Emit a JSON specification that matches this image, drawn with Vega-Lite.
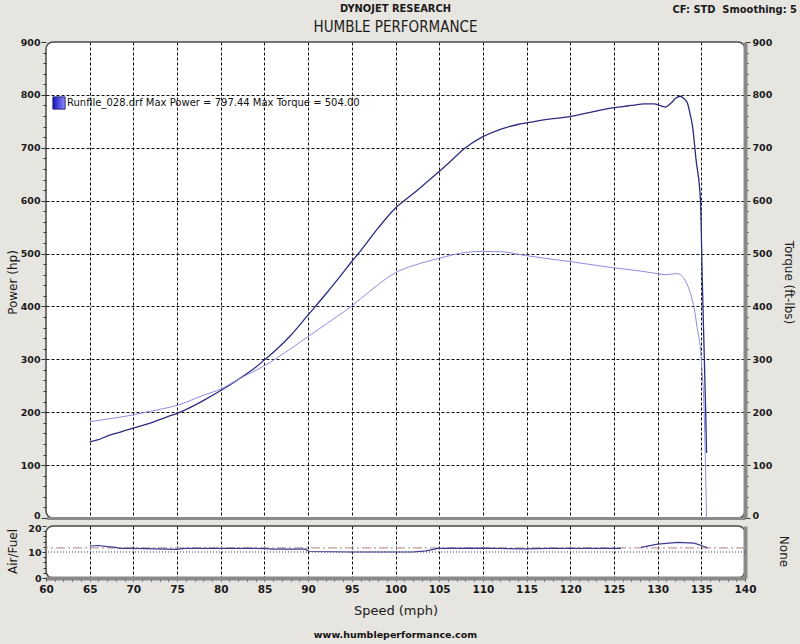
{
  "$schema": "https://vega.github.io/schema/vega-lite/v6.json",
  "padding": {"left": 5, "top": 3, "right": 4, "bottom": 6},
  "background": "#e7e5e0",
  "bounds": "flush",
  "spacing": 8,
  "title": {
    "text": "DYNOJET RESEARCH",
    "subtitle": "HUMBLE PERFORMANCE",
    "anchor": "middle",
    "frame": "group",
    "offset": 0,
    "dy": 32,
    "font": "DejaVu Sans Condensed",
    "fontSize": 11,
    "fontWeight": "bold",
    "color": "#1a1a1a",
    "subtitleFont": "DejaVu Sans Condensed",
    "subtitleFontSize": 15,
    "subtitleColor": "#1a1a1a",
    "subtitlePadding": 6
  },
  "datasets": {
    "power": [
      {"speed": 65, "hp": 144}, {"speed": 66, "hp": 148}, {"speed": 67, "hp": 155}, {"speed": 68, "hp": 160},
      {"speed": 69, "hp": 165}, {"speed": 70, "hp": 170}, {"speed": 72, "hp": 180}, {"speed": 74, "hp": 192},
      {"speed": 75, "hp": 198}, {"speed": 76, "hp": 205}, {"speed": 78, "hp": 222}, {"speed": 80, "hp": 241},
      {"speed": 82, "hp": 262}, {"speed": 84, "hp": 285}, {"speed": 85, "hp": 299}, {"speed": 86, "hp": 313},
      {"speed": 88, "hp": 345}, {"speed": 90, "hp": 384}, {"speed": 92, "hp": 423}, {"speed": 94, "hp": 464},
      {"speed": 95, "hp": 485}, {"speed": 96, "hp": 505}, {"speed": 98, "hp": 548}, {"speed": 100, "hp": 586},
      {"speed": 102, "hp": 613}, {"speed": 104, "hp": 641}, {"speed": 105, "hp": 655}, {"speed": 106, "hp": 670},
      {"speed": 108, "hp": 700}, {"speed": 110, "hp": 721}, {"speed": 112, "hp": 735}, {"speed": 114, "hp": 744},
      {"speed": 115, "hp": 747}, {"speed": 116, "hp": 750}, {"speed": 118, "hp": 755}, {"speed": 120, "hp": 759},
      {"speed": 122, "hp": 766}, {"speed": 124, "hp": 773}, {"speed": 125, "hp": 776}, {"speed": 126, "hp": 778},
      {"speed": 127, "hp": 780}, {"speed": 128.5, "hp": 783}, {"speed": 129.6, "hp": 783}, {"speed": 130.4, "hp": 779},
      {"speed": 130.9, "hp": 777}, {"speed": 131.5, "hp": 784}, {"speed": 132.1, "hp": 794}, {"speed": 132.6, "hp": 797.44},
      {"speed": 133, "hp": 793}, {"speed": 133.4, "hp": 785}, {"speed": 133.7, "hp": 765}, {"speed": 134, "hp": 740},
      {"speed": 134.4, "hp": 677}, {"speed": 134.9, "hp": 601}, {"speed": 135, "hp": 540}, {"speed": 135.1, "hp": 456},
      {"speed": 135.3, "hp": 330}, {"speed": 135.5, "hp": 200}, {"speed": 135.6, "hp": 123}
    ],
    "torque": [
      {"speed": 65, "tq": 182}, {"speed": 67, "tq": 187}, {"speed": 70, "tq": 195}, {"speed": 72, "tq": 202},
      {"speed": 75, "tq": 213}, {"speed": 78, "tq": 232}, {"speed": 80, "tq": 244}, {"speed": 82, "tq": 262},
      {"speed": 85, "tq": 288}, {"speed": 88, "tq": 320}, {"speed": 90, "tq": 343}, {"speed": 92, "tq": 366},
      {"speed": 95, "tq": 401}, {"speed": 97, "tq": 428}, {"speed": 98, "tq": 441}, {"speed": 100, "tq": 464},
      {"speed": 102, "tq": 477}, {"speed": 105, "tq": 491}, {"speed": 108, "tq": 502}, {"speed": 110, "tq": 504},
      {"speed": 112, "tq": 503.5}, {"speed": 115, "tq": 496}, {"speed": 118, "tq": 489}, {"speed": 120, "tq": 485},
      {"speed": 122, "tq": 480}, {"speed": 125, "tq": 473}, {"speed": 128, "tq": 467}, {"speed": 130, "tq": 462},
      {"speed": 131, "tq": 460}, {"speed": 132, "tq": 462}, {"speed": 132.5, "tq": 461}, {"speed": 133, "tq": 453},
      {"speed": 133.5, "tq": 437}, {"speed": 134, "tq": 410}, {"speed": 134.2, "tq": 396}, {"speed": 134.5, "tq": 362},
      {"speed": 134.9, "tq": 318}, {"speed": 135.1, "tq": 275}, {"speed": 135.3, "tq": 215}, {"speed": 135.45, "tq": 120},
      {"speed": 135.6, "tq": 0}
    ],
    "afr": [
      {"speed": 65, "afr": 12.3, "seg": 1}, {"speed": 66, "afr": 12.5, "seg": 1}, {"speed": 67, "afr": 12.1, "seg": 1},
      {"speed": 68, "afr": 11.8, "seg": 1}, {"speed": 68.4, "afr": 11.4, "seg": 1}, {"speed": 70, "afr": 11.4, "seg": 1},
      {"speed": 72.6, "afr": 11.2, "seg": 1}, {"speed": 74.9, "afr": 11.0, "seg": 1}, {"speed": 76, "afr": 11.4, "seg": 1},
      {"speed": 79.8, "afr": 11.4, "seg": 1}, {"speed": 83.6, "afr": 11.4, "seg": 1}, {"speed": 85, "afr": 11.3, "seg": 1},
      {"speed": 85.9, "afr": 11.1, "seg": 1}, {"speed": 89.7, "afr": 11.1, "seg": 1}, {"speed": 90.1, "afr": 10.2, "seg": 1},
      {"speed": 95, "afr": 10.0, "seg": 1}, {"speed": 100, "afr": 10.0, "seg": 1}, {"speed": 102, "afr": 10.0, "seg": 1},
      {"speed": 103.5, "afr": 10.4, "seg": 1}, {"speed": 104.9, "afr": 11.4, "seg": 1}, {"speed": 110, "afr": 11.5, "seg": 1},
      {"speed": 114.4, "afr": 11.2, "seg": 1}, {"speed": 117.5, "afr": 11.4, "seg": 1}, {"speed": 125.8, "afr": 11.4, "seg": 1},
      {"speed": 128.1, "afr": 11.8, "seg": 2}, {"speed": 130, "afr": 13.0, "seg": 2}, {"speed": 132.3, "afr": 13.7, "seg": 2},
      {"speed": 134.2, "afr": 13.4, "seg": 2}, {"speed": 135.4, "afr": 12.0, "seg": 2}, {"speed": 135.7, "afr": 11.6, "seg": 2}
    ],
    "base": [{"afr": 10}],
    "target": [{"afr": 11.6}]
  },
  "vconcat": [
    {
      "width": 699,
      "height": 476,
      "title": {
        "text": "CF: STD\u00a0 Smoothing: 5",
        "anchor": "end",
        "frame": "group",
        "dx": 52,
        "offset": 22,
        "font": "DejaVu Sans Condensed",
        "fontSize": 11,
        "fontWeight": "bold",
        "color": "#1a1a1a"
      },
      "layer": [
        {
          "data": {"name": "power"},
          "mark": {"type": "line", "color": "#2c2c80", "strokeWidth": 1.3, "interpolate": "monotone"},
          "encoding": {
            "x": {
              "field": "speed", "type": "quantitative",
              "scale": {"domain": [60, 140], "nice": false, "zero": false},
              "axis": {
                "values": [65, 70, 75, 80, 85, 90, 95, 100, 105, 110, 115, 120, 125, 130, 135],
                "labels": false, "ticks": false, "domain": true, "domainWidth": 3,
                "grid": true, "title": null
              }
            },
            "y": {
              "field": "hp", "type": "quantitative",
              "scale": {"domain": [0, 900], "nice": false},
              "axis": {
                "orient": "left",
                "values": [0,20,40,60,80,100,120,140,160,180,200,220,240,260,280,300,320,340,360,380,400,420,440,460,480,500,520,540,560,580,600,620,640,660,680,700,720,740,760,780,800,820,840,860,880,900],
                "labelExpr": "datum.value % 100 === 0 ? datum.label : ''",
                "labelOverlap": false,
                "labelFlush": false,
                "labelBaseline": {"condition": {"test": "datum.value === 0", "value": "alphabetic"}, "value": "middle"},
                "tickSize": {"condition": {"test": "datum.value % 100 === 0", "value": 5}, "value": 3},
                "gridOpacity": {"condition": {"test": "datum.value % 100 === 0 && datum.value > 0 && datum.value < 900", "value": 1}, "value": 0},
                "domain": false,
                "labelPadding": 1,
                "title": "Power (hp)",
                "titleX": -34, "titleY": 240, "titleBaseline": "middle", "titleAngle": -90
              }
            },
            "color": {
              "datum": "Runfile_028.drf Max Power = 797.44 Max Torque = 504.00",
              "scale": {"range": ["#2c2c80"]},
              "legend": {
                "orient": "none", "legendX": 6, "legendY": 54, "title": null,
                "symbolType": "square", "symbolSize": 150,
                "symbolFillColor": "#2525d8", "symbolStrokeColor": "#000000", "symbolStrokeWidth": 1, "symbolOpacity": 1,
                "labelFont": "DejaVu Sans", "labelFontSize": 10, "labelFontWeight": "normal", "labelColor": "#111111",
                "labelOffset": 1, "labelLimit": 500, "padding": 0,
                "encode": {
                  "symbols": {
                    "update": {
                      "fill": {"value": {"gradient": "linear", "x1": 0, "y1": 0, "x2": 1, "y2": 0, "stops": [{"offset": 0, "color": "#1414b8"}, {"offset": 1, "color": "#8a8aff"}]}},
                      "stroke": {"value": "#000000"},
                      "strokeWidth": {"value": 1},
                      "opacity": {"value": 1}
                    }
                  }
                }
              }
            }
          }
        },
        {
          "data": {"name": "torque"},
          "mark": {"type": "line", "color": "#8d8de0", "strokeWidth": 1, "interpolate": "monotone"},
          "encoding": {
            "x": {"field": "speed", "type": "quantitative"},
            "y": {
              "field": "tq", "type": "quantitative",
              "scale": {"domain": [0, 900], "nice": false},
              "axis": {
                "orient": "right",
                "values": [0,20,40,60,80,100,120,140,160,180,200,220,240,260,280,300,320,340,360,380,400,420,440,460,480,500,520,540,560,580,600,620,640,660,680,700,720,740,760,780,800,820,840,860,880,900],
                "labelExpr": "datum.value % 100 === 0 ? datum.label : ''",
                "labelOverlap": false,
                "labelFlush": false,
                "labelBaseline": {"condition": {"test": "datum.value === 0", "value": "alphabetic"}, "value": "middle"},
                "tickSize": {"condition": {"test": "datum.value % 100 === 0", "value": 5}, "value": 3},
                "grid": false,
                "domain": true, "domainWidth": 4,
                "labelPadding": 2,
                "title": "Torque (ft-lbs)",
                "titleX": 43, "titleY": 240, "titleBaseline": "middle", "titleAngle": 90
              }
            }
          }
        }
      ],
      "resolve": {"scale": {"y": "independent"}}
    },
    {
      "width": 699,
      "height": 52,
      "title": {
        "text": "www.humbleperformance.com",
        "orient": "bottom",
        "anchor": "middle",
        "frame": "group",
        "offset": 12,
        "font": "DejaVu Sans",
        "fontSize": 9.5,
        "fontWeight": "bold",
        "color": "#111111"
      },
      "layer": [
        {
          "data": {"name": "base"},
          "mark": {"type": "rule", "color": "#2a2a6a", "strokeDash": [1, 2], "strokeWidth": 1},
          "encoding": {
            "y": {
              "field": "afr", "type": "quantitative",
              "scale": {"domain": [0, 20], "nice": false},
              "axis": {
                "orient": "right", "title": "None", "labels": false, "ticks": false,
                "domain": true, "domainWidth": 4, "grid": false,
                "titleX": 38, "titleY": 25, "titleBaseline": "middle", "titleAngle": 90
              }
            }
          }
        },
        {
          "data": {"name": "target"},
          "mark": {"type": "rule", "color": "#c29a9a", "strokeDash": [9, 3, 2, 3], "strokeWidth": 1.3},
          "encoding": {
            "y": {"field": "afr", "type": "quantitative", "scale": {"domain": [0, 20], "nice": false}, "axis": null}
          }
        },
        {
          "data": {"name": "afr"},
          "mark": {"type": "line", "color": "#3a3a90", "strokeWidth": 1.2},
          "encoding": {
            "x": {
              "field": "speed", "type": "quantitative",
              "scale": {"domain": [60, 140], "nice": false, "zero": false},
              "axis": {
                "values": [60,61,62,63,64,65,66,67,68,69,70,71,72,73,74,75,76,77,78,79,80,81,82,83,84,85,86,87,88,89,90,91,92,93,94,95,96,97,98,99,100,101,102,103,104,105,106,107,108,109,110,111,112,113,114,115,116,117,118,119,120,121,122,123,124,125,126,127,128,129,130,131,132,133,134,135,136,137,138,139,140],
                "labelExpr": "datum.value % 5 === 0 ? datum.label : ''",
                "labelOverlap": false,
                "labelFlush": false,
                "labelFontSize": 10.5,
                "tickSize": 3,
                "labelPadding": 3,
                "gridOpacity": {"condition": {"test": "datum.value % 5 === 0 && datum.value > 60 && datum.value < 140", "value": 1}, "value": 0},
                "grid": true,
                "domain": true, "domainWidth": 4,
                "title": "Speed (mph)", "titleFontSize": 13, "titlePadding": 10
              }
            },
            "y": {
              "field": "afr", "type": "quantitative",
              "scale": {"domain": [0, 20], "nice": false},
              "axis": {
                "orient": "left",
                "values": [0, 2, 4, 6, 8, 10, 12, 14, 16, 18, 20],
                "labelExpr": "datum.value % 10 === 0 ? datum.label : ''",
                "labelOverlap": false,
                "labelFlush": false,
                "labelBaseline": {"condition": {"test": "datum.value === 20", "value": "top"}, "value": "middle"},
                "labelOffset": {"condition": {"test": "datum.value === 20", "value": -3}, "value": 0},
                "tickSize": {"condition": {"test": "datum.value % 10 === 0", "value": 4}, "value": 3},
                "grid": false, "domain": false,
                "labelPadding": 1,
                "title": "Air/Fuel",
                "titleX": -34, "titleY": 25, "titleBaseline": "middle", "titleAngle": -90
              }
            },
            "detail": {"field": "seg", "type": "nominal"}
          }
        }
      ],
      "resolve": {"scale": {"y": "independent"}}
    }
  ],
  "config": {
    "view": {"stroke": "#4a4a4a", "strokeWidth": 1.5, "cornerRadius": 7, "fill": "#ffffff"},
    "axis": {
      "labelFont": "DejaVu Sans", "labelFontSize": 9.5, "labelFontWeight": "bold", "labelColor": "#1a1a1a",
      "titleFont": "DejaVu Sans", "titleFontSize": 12, "titleFontWeight": "normal", "titleColor": "#1a1a1a",
      "tickColor": "#333333", "gridColor": "#111111", "gridDash": [3, 2], "gridWidth": 1,
      "domainColor": "#8a8a8a"
    }
  }
}
